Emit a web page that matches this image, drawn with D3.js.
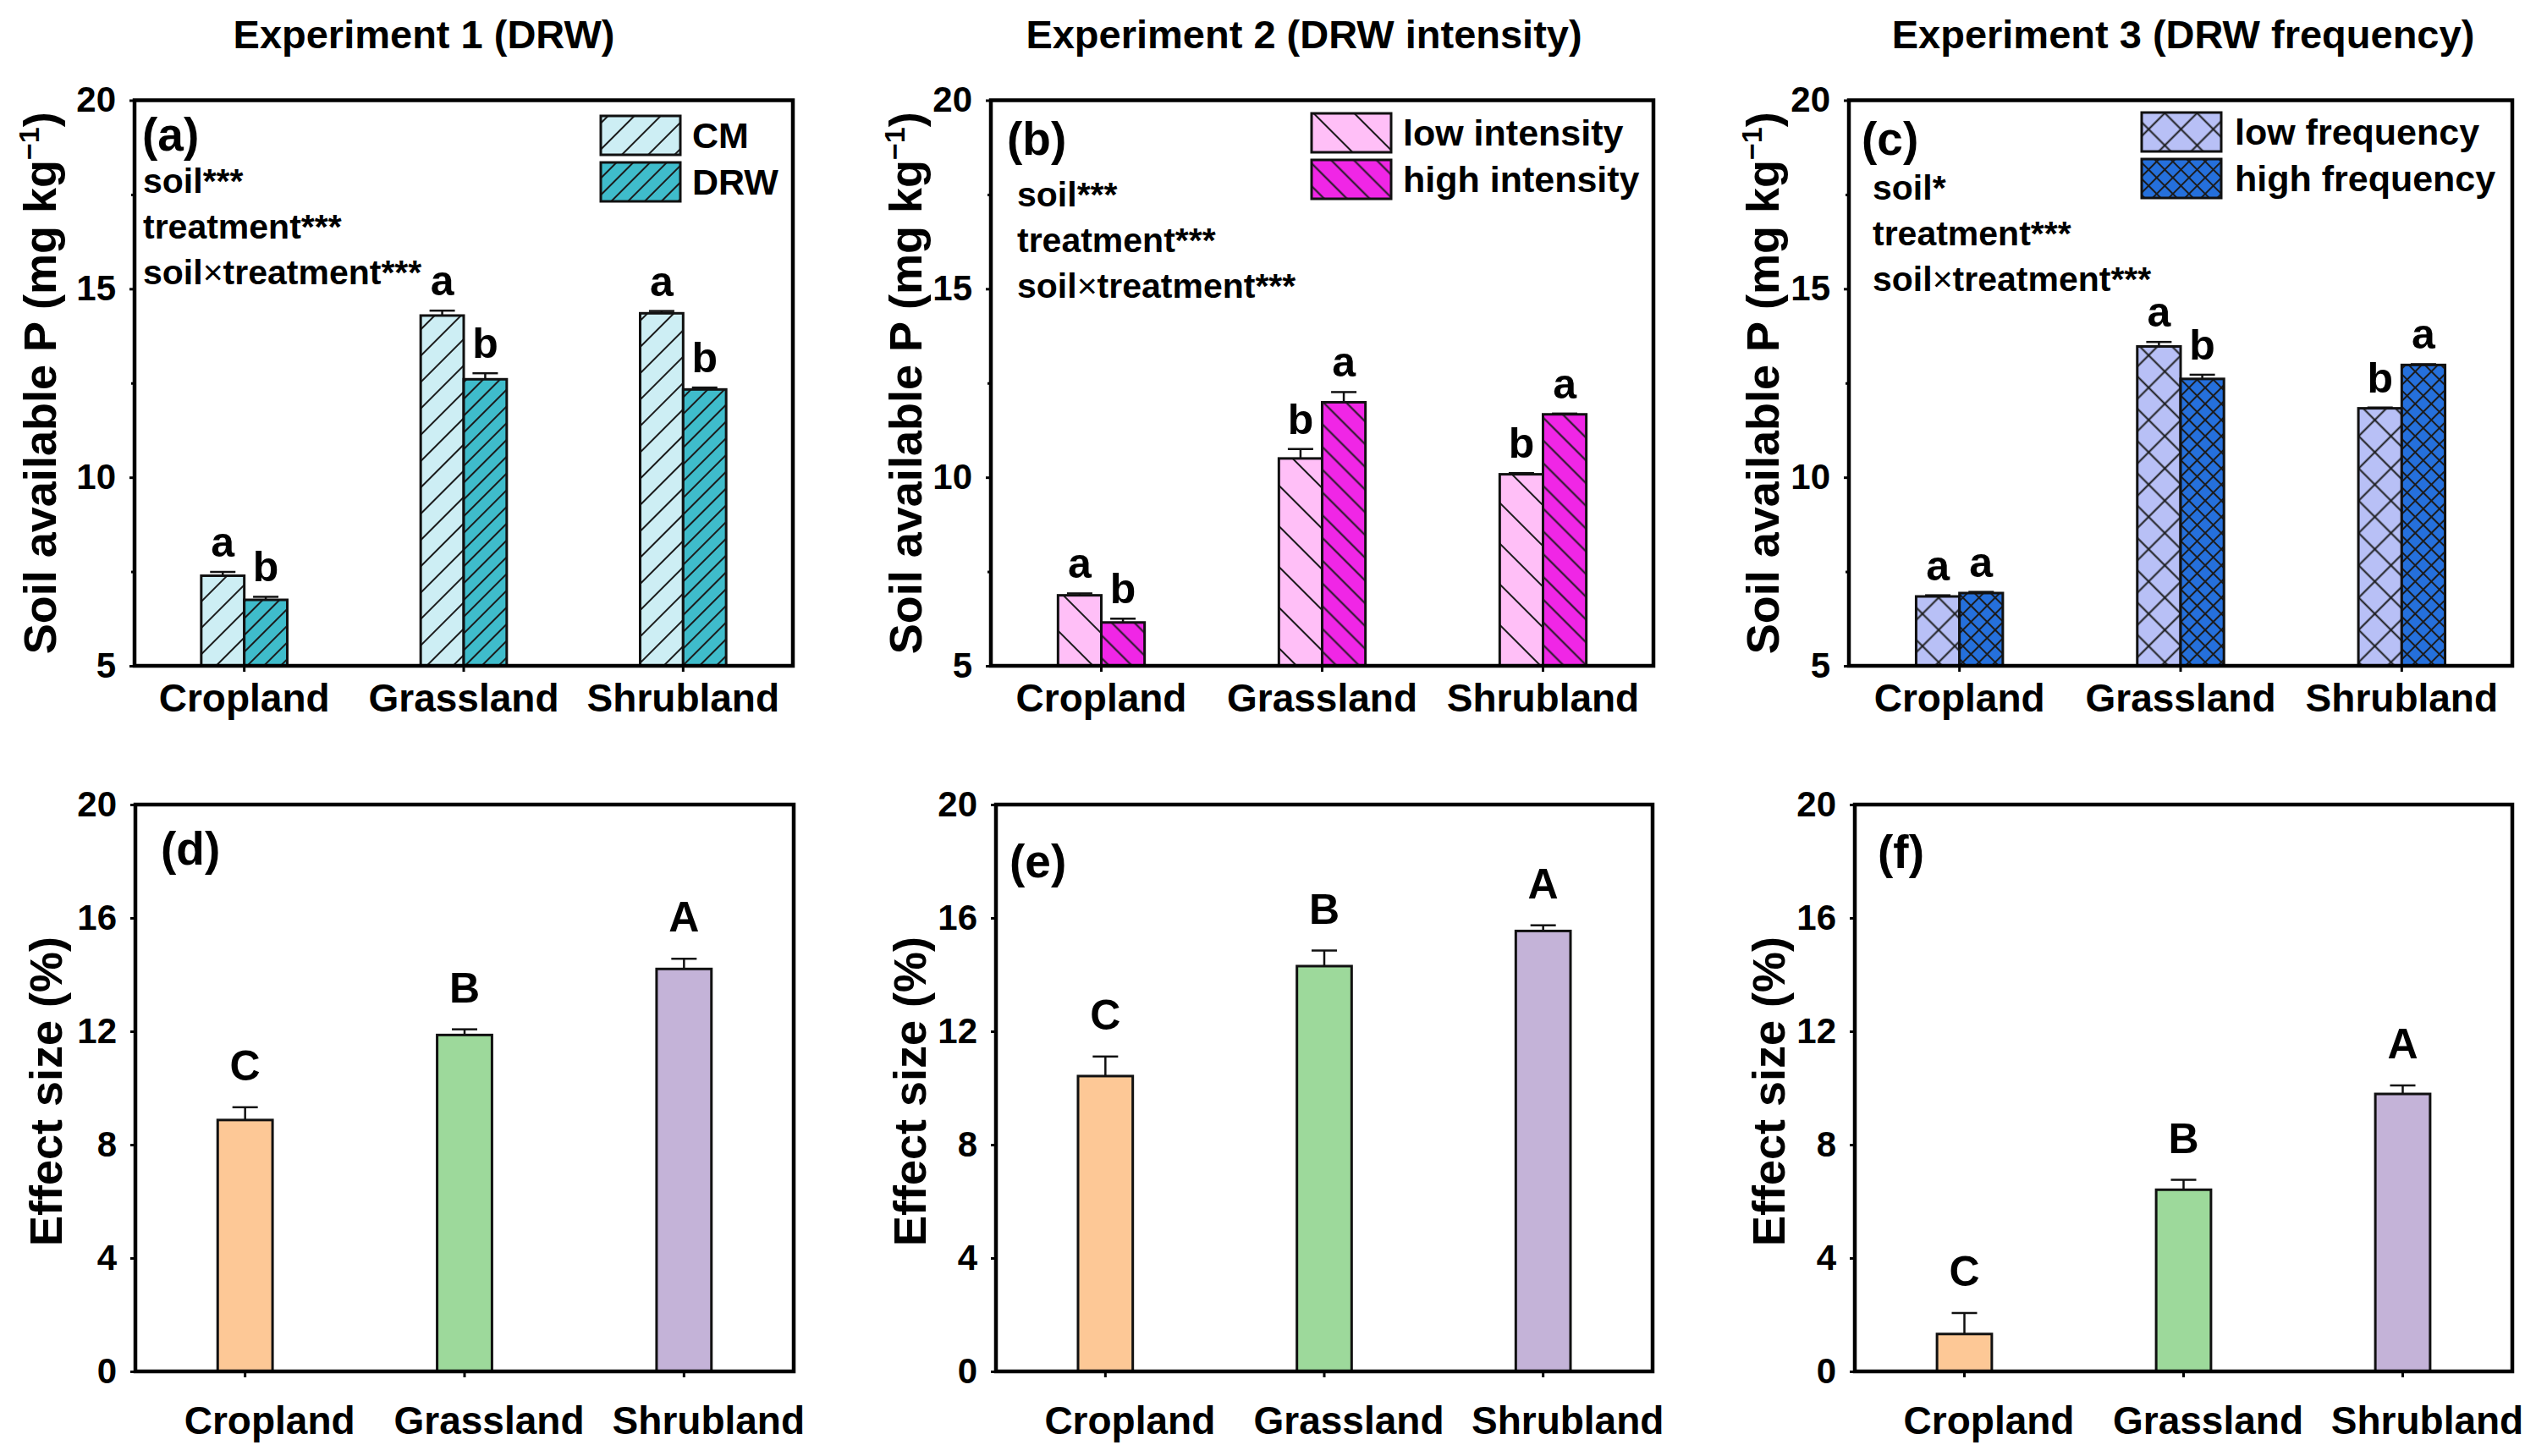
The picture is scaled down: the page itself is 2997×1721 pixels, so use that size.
<!DOCTYPE html>
<html><head><meta charset="utf-8">
<script src="https://cdn.jsdelivr.net/npm/d3@7"></script>
<style>
body{margin:0;background:#fff}
svg{display:block}
text{font-family:"Liberation Sans",Arial,Helvetica,sans-serif;font-weight:bold;fill:#000}
</style>
</head><body>
<svg id="chart" width="2997" height="1721"></svg>
<script>
// ---------------- DATA ----------------
const categories = ["Cropland", "Grassland", "Shrubland"];
const titles = ["Experiment 1 (DRW)", "Experiment 2 (DRW intensity)", "Experiment 3 (DRW frequency)"];
const panelLabels = ["(a)", "(b)", "(c)", "(d)", "(e)", "(f)"];
const topTicks = [5, 10, 15, 20];
const topMinorTicks = [7.5, 12.5, 17.5];
const bottomTicks = [0, 4, 8, 12, 16, 20];
const topYTitle = "Soil available P (mg kg";
const bottomYTitle = "Effect size (%)";

// Experiment 1
const exp1Series = ["CM", "DRW"];
const exp1CM = [7.39, 14.29, 14.35];
const exp1CMErr = [0.10, 0.13, 0.06];
const exp1CMLetters = ["a", "a", "a"];
const exp1DRW = [6.75, 12.60, 12.33];
const exp1DRWErr = [0.08, 0.16, 0.05];
const exp1DRWLetters = ["b", "b", "b"];
const exp1Stats = ["soil***", "treatment***", "soil×treatment***"];

// Experiment 2
const exp2Series = ["low intensity", "high intensity"];
const exp2Low = [6.87, 10.50, 10.08];
const exp2LowErr = [0.05, 0.25, 0.03];
const exp2LowLetters = ["a", "b", "b"];
const exp2High = [6.15, 11.99, 11.67];
const exp2HighErr = [0.10, 0.27, 0.02];
const exp2HighLetters = ["b", "a", "a"];
const exp2Stats = ["soil***", "treatment***", "soil×treatment***"];

// Experiment 3
const exp3Series = ["low frequency", "high frequency"];
const exp3Low = [6.84, 13.47, 11.83];
const exp3LowErr = [0.03, 0.12, 0.02];
const exp3LowLetters = ["a", "a", "b"];
const exp3High = [6.93, 12.61, 12.98];
const exp3HighErr = [0.03, 0.11, 0.02];
const exp3HighLetters = ["a", "b", "a"];
const exp3Stats = ["soil*", "treatment***", "soil×treatment***"];

// Effect sizes
const effect1 = [8.87, 11.87, 14.20];
const effect1Err = [0.45, 0.20, 0.36];
const effect2 = [10.42, 14.30, 15.54];
const effect2Err = [0.69, 0.55, 0.20];
const effect3 = [1.32, 6.41, 9.79];
const effect3Err = [0.74, 0.35, 0.30];
const effectLetters = ["C", "B", "A"];

// ---------------- STYLE / LAYOUT ----------------
const effectColors = ["#fdc896", "#9dd99b", "#c4b3d8"];
const hatchDefs = [
  {id: "h-cm",  fill: "#cdeef4", spacing: 22, angle: 45,  cross: false},
  {id: "h-drw", fill: "#3fbccb", spacing: 14, angle: 45,  cross: false},
  {id: "h-li",  fill: "#ffbff7", spacing: 34, angle: -45, cross: false},
  {id: "h-hi",  fill: "#f026e6", spacing: 19, angle: -45, cross: false},
  {id: "h-lf",  fill: "#b8c0f6", spacing: 27, angle: 45,  cross: true},
  {id: "h-hf",  fill: "#2570dc", spacing: 13.5, angle: 45, cross: true}
];

const svg = d3.select("#chart");
const defs = svg.append("defs");
hatchDefs.forEach(h => {
  const s = h.spacing;
  const p = defs.append("pattern").attr("id", h.id)
    .attr("patternUnits", "userSpaceOnUse")
    .attr("width", s).attr("height", s)
    .attr("patternTransform", `rotate(${h.angle})`);
  p.append("rect").attr("width", s).attr("height", s).attr("fill", h.fill);
  p.append("line").attr("x1", s / 2).attr("x2", s / 2).attr("y1", 0).attr("y2", s)
    .attr("stroke", "#1b1b1b").attr("stroke-width", 2);
  if (h.cross) {
    p.append("line").attr("x1", 0).attr("x2", s).attr("y1", s / 2).attr("y2", s / 2)
      .attr("stroke", "#1b1b1b").attr("stroke-width", 2);
  }
});

const topPanels = [
  {x0: 159, x1: 937, series: exp1Series, fills: ["h-cm", "h-drw"],
   values: [exp1CM, exp1DRW], errs: [exp1CMErr, exp1DRWErr], letters: [exp1CMLetters, exp1DRWLetters],
   stats: exp1Stats, statsX: 169, statsY: 228, labelPos: [168, 178], legendX: 710, legendY: 137, textX: 818,
   yTitleX: 66, titleX: 501},
  {x0: 1171, x1: 1954, series: exp2Series, fills: ["h-li", "h-hi"],
   values: [exp2Low, exp2High], errs: [exp2LowErr, exp2HighErr], letters: [exp2LowLetters, exp2HighLetters],
   stats: exp2Stats, statsX: 1202, statsY: 244, labelPos: [1190, 183], legendX: 1550, legendY: 134, textX: 1658,
   yTitleX: 1089, titleX: 1541},
  {x0: 2185, x1: 2969, series: exp3Series, fills: ["h-lf", "h-hf"],
   values: [exp3Low, exp3High], errs: [exp3LowErr, exp3HighErr], letters: [exp3LowLetters, exp3HighLetters],
   stats: exp3Stats, statsX: 2213, statsY: 236, labelPos: [2200, 183], legendX: 2531, legendY: 133, textX: 2641,
   yTitleX: 2102, titleX: 2580}
];
const bottomPanels = [
  {x0: 160, x1: 938, values: effect1, errs: effect1Err, labelPos: [190, 1022], yTitleX: 73},
  {x0: 1177, x1: 1953, values: effect2, errs: effect2Err, labelPos: [1193, 1037], yTitleX: 1094},
  {x0: 2192, x1: 2969, values: effect3, errs: effect3Err, labelPos: [2219, 1026], yTitleX: 2109}
];
const topY0 = 118.5, topY1 = 787;
const botY0 = 951, botY1 = 1621;

function styleAxis(g, fontSize) {
  g.select(".domain").remove();
  g.selectAll(".tick line").attr("stroke", "#000").attr("stroke-width", 3);
  g.selectAll(".tick text").attr("font-size", fontSize).attr("fill", "#000")
    .style("font-family", '"Liberation Sans",Arial,sans-serif').style("font-weight", "bold");
}

function errorBar(g, cx, yTop, yErr) {
  g.append("line").attr("x1", cx).attr("x2", cx).attr("y1", yTop).attr("y2", yErr)
    .attr("stroke", "#111").attr("stroke-width", 2.5);
  g.append("line").attr("x1", cx - 15).attr("x2", cx + 15).attr("y1", yErr).attr("y2", yErr)
    .attr("stroke", "#111").attr("stroke-width", 2.5);
}

// ---------------- TOP ROW ----------------
topPanels.forEach((P, pi) => {
  const g = svg.append("g");
  const x = d3.scaleBand().domain(categories).range([P.x0, P.x1]).paddingInner(0).paddingOuter(0);
  const y = d3.scaleLinear().domain([5, 20]).range([topY1, topY0]);
  const barW = x.bandwidth() * 0.196;
  const sub = d3.scaleBand().domain(P.series).range([-barW, barW]);

  P.series.forEach((s, si) => {
    categories.forEach((c, ci) => {
      const v = P.values[si][ci], e = P.errs[si][ci];
      const bx = x(c) + x.bandwidth() / 2 + sub(s);
      const cx = bx + sub.bandwidth() / 2;
      errorBar(g, cx, y(v), y(v + e));
      g.append("rect").attr("x", bx).attr("y", y(v)).attr("width", sub.bandwidth())
        .attr("height", y(5) - y(v)).attr("fill", `url(#${P.fills[si]})`)
        .attr("stroke", "#111").attr("stroke-width", 3);
      g.append("text").attr("x", cx).attr("y", y(v + e) - 18).attr("text-anchor", "middle")
        .attr("font-size", 50).text(P.letters[si][ci]);
    });
  });

  const ya = g.append("g").attr("transform", `translate(${P.x0},0)`)
    .call(d3.axisLeft(y).tickValues(topTicks).tickFormat(d3.format("d")).tickSize(6).tickPadding(16));
  styleAxis(ya, 42);
  const ym = g.append("g").attr("transform", `translate(${P.x0},0)`)
    .call(d3.axisLeft(y).tickValues(topMinorTicks).tickFormat("").tickSize(4));
  styleAxis(ym, 42);
  const xa = g.append("g").attr("transform", `translate(0,${topY1})`)
    .call(d3.axisBottom(x).tickSize(7).tickPadding(14));
  styleAxis(xa, 46);

  g.append("rect").attr("x", P.x0).attr("y", topY0).attr("width", P.x1 - P.x0).attr("height", topY1 - topY0)
    .attr("fill", "none").attr("stroke", "#000").attr("stroke-width", 4.5);

  svg.append("text").attr("x", P.titleX).attr("y", 57).attr("text-anchor", "middle")
    .attr("font-size", 47).text(titles[pi]);

  const yt = svg.append("text").attr("transform", `translate(${P.yTitleX},${(topY0 + topY1) / 2}) rotate(-90)`)
    .attr("text-anchor", "middle").attr("font-size", 54);
  yt.append("tspan").text(topYTitle);
  yt.append("tspan").attr("dy", -20).attr("font-size", 34).text("−1");
  yt.append("tspan").attr("dy", 20).text(")");

  svg.append("text").attr("x", P.labelPos[0]).attr("y", P.labelPos[1]).attr("font-size", 55).text(panelLabels[pi]);

  P.stats.forEach((t, i) => {
    const tx = svg.append("text").attr("x", P.statsX).attr("y", P.statsY + i * 54).attr("font-size", 41);
    const parts = t.split("×");
    tx.append("tspan").text(parts[0]);
    if (parts.length > 1) {
      tx.append("tspan").style("font-weight", "normal").text("×");
      tx.append("tspan").text(parts[1]);
    }
  });

  P.series.forEach((s, si) => {
    const ly = P.legendY + si * 55;
    svg.append("rect").attr("x", P.legendX).attr("y", ly).attr("width", 94).attr("height", 46)
      .attr("fill", `url(#${P.fills[si]})`).attr("stroke", "#111").attr("stroke-width", 3);
    svg.append("text").attr("x", P.textX).attr("y", ly + 23).attr("dy", "0.36em")
      .attr("font-size", 43).text(s);
  });
});

// ---------------- BOTTOM ROW ----------------
bottomPanels.forEach((P, pi) => {
  const g = svg.append("g");
  const x = d3.scaleBand().domain(categories).range([P.x0, P.x1]).paddingInner(0).paddingOuter(0);
  const y = d3.scaleLinear().domain([0, 20]).range([botY1, botY0]);
  const barW = x.bandwidth() * 0.25;

  categories.forEach((c, ci) => {
    const v = P.values[ci], e = P.errs[ci];
    const cx = x(c) + x.bandwidth() / 2;
    errorBar(g, cx, y(v), y(v + e));
    g.append("rect").attr("x", cx - barW / 2).attr("y", y(v)).attr("width", barW)
      .attr("height", y(0) - y(v)).attr("fill", effectColors[ci])
      .attr("stroke", "#111").attr("stroke-width", 3);
    g.append("text").attr("x", cx).attr("y", y(v + e) - 32).attr("text-anchor", "middle")
      .attr("font-size", 50).text(effectLetters[ci]);
  });

  const ya = g.append("g").attr("transform", `translate(${P.x0},0)`)
    .call(d3.axisLeft(y).tickValues(bottomTicks).tickFormat(d3.format("d")).tickSize(6).tickPadding(16));
  styleAxis(ya, 42);
  const xa = g.append("g").attr("transform", `translate(0,${botY1})`)
    .call(d3.axisBottom(x).tickSize(7).tickPadding(34));
  styleAxis(xa, 46);
  xa.selectAll(".tick text").attr("dx", 29);

  g.append("rect").attr("x", P.x0).attr("y", botY0).attr("width", P.x1 - P.x0).attr("height", botY1 - botY0)
    .attr("fill", "none").attr("stroke", "#000").attr("stroke-width", 4.5);

  svg.append("text").attr("transform", `translate(${P.yTitleX},${(botY0 + botY1) / 2 + 4}) rotate(-90)`)
    .attr("text-anchor", "middle").attr("font-size", 54).text(bottomYTitle);

  svg.append("text").attr("x", P.labelPos[0]).attr("y", P.labelPos[1]).attr("font-size", 55).text(panelLabels[pi + 3]);
});
</script>
</body></html>
